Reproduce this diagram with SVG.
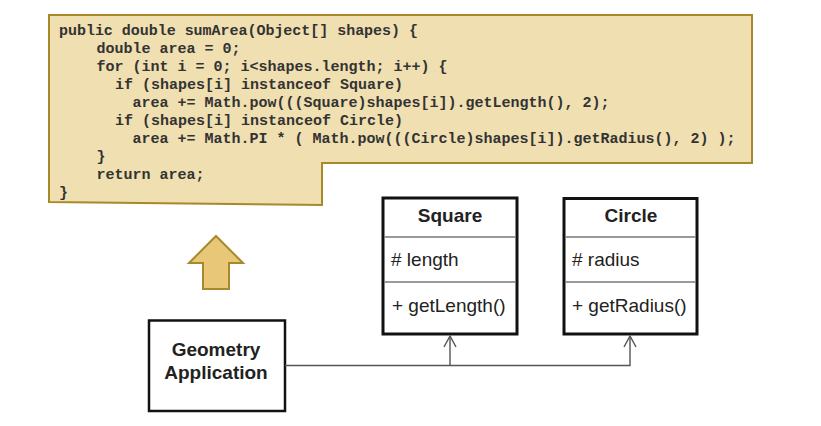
<svg xmlns="http://www.w3.org/2000/svg" width="821" height="426" viewBox="0 0 821 426">
<style>
.code{font-family:"Liberation Mono","Courier New",monospace;font-weight:bold;font-size:15px;fill:#333;white-space:pre}
.uml{fill:#fff;stroke:#111;stroke-width:3}
.div{stroke:#777;stroke-width:1.5}
.t{font-family:"Liberation Sans",Arial,sans-serif;font-size:19px;fill:#222}
.b{font-weight:bold}
.conn{fill:none;stroke:#555;stroke-width:1.4}
</style>
<defs>
<marker id="open" markerWidth="14" markerHeight="14" refX="12" refY="7" orient="auto" markerUnits="userSpaceOnUse" viewBox="0 0 14 14">
<path d="M1,1 L12,7 L1,13" fill="none" stroke="#555" stroke-width="1.4"/>
</marker>
</defs>
<g id="code">
<polygon points="49,15 752,15 752,163 322,163 322,205 49,202" fill="#f0dfb0" stroke="#a8892a" stroke-width="2"/>
<text class="code" x="59" y="35" textLength="359" lengthAdjust="spacing">public double sumArea(Object[] shapes) {</text>
<text class="code" x="96.5" y="53">double area = 0;</text>
<text class="code" x="96.5" y="71">for (int i = 0; i&lt;shapes.length; i++) {</text>
<text class="code" x="115" y="89">if (shapes[i] instanceof Square)</text>
<text class="code" x="132.5" y="107">area += Math.pow(((Square)shapes[i]).getLength(), 2);</text>
<text class="code" x="115" y="125">if (shapes[i] instanceof Circle)</text>
<text class="code" x="132.5" y="143">area += Math.PI * ( Math.pow(((Circle)shapes[i]).getRadius(), 2) );</text>
<text class="code" x="96.5" y="161">}</text>
<text class="code" x="96.5" y="179">return area;</text>
<text class="code" x="59" y="197">}</text>
</g>
<g id="uparrow">
<polygon points="216,236 243,263 229,263 229,289 203,289 203,263 189,263" fill="#e8c878" stroke="#a8892a" stroke-width="2"/>
</g>
<g id="geometry">
<rect x="149" y="320.5" width="136" height="90.5" fill="#fff" stroke="#111" stroke-width="2.5"/>
<text class="t b" x="216" y="356" text-anchor="middle">Geometry</text>
<text class="t b" x="216" y="379" text-anchor="middle">Application</text>
</g>
<g id="square">
<rect class="uml" x="383" y="198" width="134" height="136"/>
<line class="div" x1="384.5" y1="237" x2="515.5" y2="237"/>
<line class="div" x1="384.5" y1="282" x2="515.5" y2="282"/>
<text class="t b" x="450" y="222" text-anchor="middle">Square</text>
<text class="t" x="391" y="266"># length</text>
<text class="t" x="392" y="312">+ getLength()</text>
</g>
<g id="circle">
<rect class="uml" x="564" y="198.5" width="133" height="135.5"/>
<line class="div" x1="565.5" y1="237" x2="695.5" y2="237"/>
<line class="div" x1="565.5" y1="282" x2="695.5" y2="282"/>
<text class="t b" x="631" y="221.5" text-anchor="middle">Circle</text>
<text class="t" x="572" y="266"># radius</text>
<text class="t" x="572" y="312">+ getRadius()</text>
</g>
<g id="connectors">
<path class="conn" d="M285,365.5 H630 V336" marker-end="url(#open)"/>
<path class="conn" d="M450,365.5 V336" marker-end="url(#open)"/>
</g>
</svg>
